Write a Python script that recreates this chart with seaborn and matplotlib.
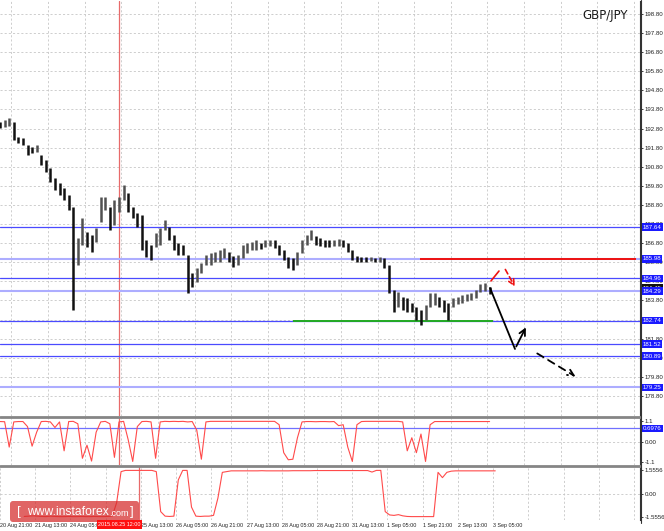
import matplotlib
matplotlib.use("Agg")
import matplotlib.pyplot as plt
import seaborn as sns
import numpy as np
import pandas as pd
from matplotlib.lines import Line2D
from matplotlib.patches import FancyBboxPatch
from matplotlib.transforms import IdentityTransform, blended_transform_factory

sns.set_theme(style="white")
plt.rcParams["font.family"] = ["Liberation Sans", "DejaVu Sans"]

# ---------------- data ----------------
# hour index of H1 bars (0 = 20 Aug 21:00, weekend hours skipped)
tick_hours = [0, 16, 32, 48, 64, 80, 96, 112, 128, 144, 160, 176, 192, 208, 224]
tick_labels = ["20 Aug 21:00", "21 Aug 13:00", "24 Aug 05:00", "24 Aug 21:00",
               "25 Aug 13:00", "26 Aug 05:00", "26 Aug 21:00", "27 Aug 13:00",
               "28 Aug 05:00", "28 Aug 21:00", "31 Aug 13:00", "1 Sep 05:00",
               "1 Sep 21:00", "2 Sep 13:00", "3 Sep 05:00"]
grid_hours = [0, 16, 32, 48, 64, 80, 96, 112, 128, 144, 160, 176, 192, 208, 224,
              240, 256, 272, 288]

bar_hours = list(range(11, 226, 2))
bar_high = [193.15, 193.25, 193.36, 193.15, 192.36, 192.31, 191.94, 191.84, 191.94, 191.42,
            191.16, 190.74, 190.21, 189.95, 189.69, 189.32, 188.70, 187.07, 188.12, 187.39,
            187.23, 187.60, 189.22, 189.22, 188.70, 189.06, 189.22, 189.85, 189.43, 188.70,
            188.38, 188.28, 186.97, 186.71, 187.33, 187.60, 188.01, 187.65, 187.23, 186.81,
            186.71, 186.18, 185.24, 185.50, 185.76, 186.18, 186.29, 186.34, 186.44, 186.55,
            186.34, 186.13, 186.18, 186.71, 186.81, 186.86, 186.97, 186.81, 186.97, 186.97,
            186.97, 186.71, 186.44, 186.08, 186.03, 186.34, 186.97, 187.23, 187.49, 187.18,
            187.07, 186.97, 186.97, 186.97, 187.02, 186.97, 186.81, 186.44, 186.13, 186.08,
            186.08, 186.08, 186.03, 186.08, 186.03, 185.66, 184.35, 184.25, 183.98, 183.93,
            183.67, 183.46, 183.30, 183.56, 184.19, 184.19, 183.98, 183.83, 183.67, 183.93,
            183.98, 184.09, 184.14, 184.19, 184.35, 184.66, 184.72, 184.51]
bar_low = [192.83, 192.88, 192.94, 192.20, 192.05, 191.94, 191.42, 191.52, 191.57, 190.89,
           190.53, 190.00, 189.59, 189.32, 189.06, 188.54, 183.30, 185.66, 186.71, 186.60,
           186.34, 186.86, 187.91, 188.54, 187.49, 187.75, 188.43, 189.06, 188.43, 188.12,
           187.65, 186.44, 186.08, 185.92, 186.60, 186.71, 187.49, 186.97, 186.44, 186.18,
           186.18, 184.19, 184.51, 184.77, 185.24, 185.66, 185.66, 185.82, 185.82, 186.03,
           185.82, 185.55, 185.66, 186.03, 186.29, 186.44, 186.44, 186.50, 186.60, 186.65,
           186.55, 186.18, 185.92, 185.50, 185.40, 185.66, 186.29, 186.71, 186.97, 186.71,
           186.65, 186.60, 186.60, 186.65, 186.65, 186.60, 186.34, 185.92, 185.82, 185.82,
           185.82, 185.87, 185.82, 185.82, 185.50, 184.19, 183.20, 183.46, 183.30, 183.20,
           183.20, 182.78, 182.52, 182.78, 183.46, 183.56, 183.46, 183.20, 182.78, 183.46,
           183.62, 183.67, 183.77, 183.83, 183.93, 184.25, 184.30, 184.14]

osc1 = [1.07, 1.06, -0.30, 1.05, 1.07, 1.07, 0.80, -0.25, 0.50, 1.07,
        1.08, 1.05, 0.75, 1.05, -0.50, 1.07, 1.08, 0.95, -0.90, -0.20,
        -1.05, 0.50, 1.05, 1.08, 0.95, -0.85, 1.05, 1.08, 0.10, -1.07,
        0.80, 1.07, 1.08, 1.05, -0.90, 1.05, 1.08, 1.07, 1.08, 1.07,
        1.08, 1.05, 1.07, 0.60, -0.95, 1.05, 1.08, 1.08, 1.08, 1.08,
        1.08, 1.08, 1.08, 1.08, 1.08, 1.08, 1.08, 1.08, 1.08, 1.08,
        1.08, 0.90, -0.60, -0.98, -0.95, 0.20, 1.05, 1.07, 1.07, 1.06,
        1.07, 1.07, 1.06, 1.07, 0.85, 0.90, -0.30, -1.07, 0.90, 1.07,
        1.08, 1.08, 1.08, 1.08, 1.08, 1.08, 1.08, 1.08, 1.05, -0.50,
        0.20, -0.60, 0.40, -1.07, 0.90, 1.07, 1.07, 1.07, 1.07, 1.07,
        1.07, 1.07, 1.07, 1.07, 1.07, 1.07, 1.07, 1.07]
osc2 = [-1.52, -1.50, -1.48, -1.50, -1.52, -1.53, -1.50, -1.52, -1.53, -1.53,
        -1.52, -1.53, -1.53, -1.52, -1.53, -1.53, -1.52, -1.53, -1.53, -1.52,
        -1.50, -0.60, 1.45, 1.53, 1.53, 1.53, 1.53, 1.53, 1.53, 1.53,
        1.45, -1.20, -1.50, -1.52, -1.50, 0.90, 1.53, 1.53, -0.90, -1.50,
        -1.52, -1.50, -1.50, -1.45, -0.30, 1.40, 1.45, 1.50, 1.50, 1.50,
        1.50, 1.50, 1.50, 1.50, 1.51, 1.50, 1.50, 1.50, 1.50, 1.50,
        1.50, 1.51, 1.51, 1.51, 1.51, 1.51, 1.52, 1.52, 1.52, 1.52,
        1.52, 1.52, 1.52, 1.52, 1.52, 1.52, 1.52, 1.52, 1.52, 1.42,
        1.53, 1.53, -1.20, -1.42, -1.45, -1.40, -1.48, -1.52, -1.53, -1.53,
        -1.53, -1.53, -1.53, -1.53, 1.40, 1.05, 1.40, 1.48, 1.50, 1.50,
        1.50, 1.50, 1.50, 1.50, 1.50, 1.50, 1.50, 1.50]

price_ticks = [178.8, 179.8, 180.8, 181.8, 182.8, 183.8, 184.8, 185.8, 186.8, 187.8,
               188.8, 189.8, 190.8, 191.8, 192.8, 193.8, 194.8, 195.8, 196.8, 197.8, 198.8]
levels_thin = [187.64, 184.96, 182.74, 181.52, 180.89]
levels_light = [185.98, 184.29, 179.25]
level_labels = [187.64, 185.98, 184.96, 184.29, 182.74, 181.52, 180.89, 179.25]
bid_price = 184.45
support_level = 182.74   # green segment
support_span = (139.1, 226.5)
resist_level = 185.98    # red segment
resist_span = (194.6, 289.0)
marker_hour = 63         # 2015.08.25 12:00
osc1_level = 0.6976

# forecast arrows (hour, price)
fc_main = [(225.2, 184.45), (236.1, 181.26), (241.4, 182.52)]
fc_alt = [(244.8, 181.10), (263.6, 179.74)]
fc_red_up = [(225.6, 184.82), (229.1, 185.34)]
fc_red_dn = [(231.3, 185.55), (236.6, 184.40)]

# ---------------- layout ----------------
W, H = 664, 531
fig = plt.figure(figsize=(W / 100, H / 100), dpi=100)
fig.patch.set_facecolor("white")

def fax(top, bottom):
    return [0, 1 - bottom / H, 640 / W, (bottom - top) / H]

ax = fig.add_axes(fax(1, 416))
ax1 = fig.add_axes(fax(418, 465))
ax2 = fig.add_axes(fax(467, 520))

LBL = 4.4
xlim = (10.973, 290.75)
grid_kw = dict(color="#c6c6c6", lw=0.6, ls=(0, (2.5, 2.5)), zorder=0)
for a in (ax, ax1, ax2):
    a.set_xlim(*xlim)
    a.set_facecolor("white")
    for s in ("left", "top", "bottom"):
        a.spines[s].set_visible(False)
    a.spines["right"].set_color("#333333")
    a.spines["right"].set_linewidth(0.8)
    a.yaxis.tick_right()
    a.tick_params(axis="y", which="both", labelsize=LBL, colors="#222222", length=2,
                  width=0.6, pad=1.5, right=True, left=False)
    for h in grid_hours:
        a.axvline(h, **grid_kw)
    a.axvline(marker_hour, color="#e86a6a", lw=0.9, zorder=1)

# main price panel
ax.set_ylim(177.75, 199.48)
ax.set_yticks(price_ticks)
ax.set_yticklabels([f"{v:.2f}" for v in price_ticks])
ax.set_xticks([])
for p in price_ticks:
    ax.axhline(p, **grid_kw)
for lv in levels_light:
    ax.axhline(lv, color="#adadff", lw=1.5, zorder=2)
for lv in levels_thin:
    ax.axhline(lv, color="#4a4aff", lw=0.9, zorder=2)
ax.hlines(support_level, *support_span, color="#22aa22", lw=1.4, zorder=3)
ax.hlines(resist_level, *resist_span, color="#ee1111", lw=1.4, zorder=3)

# bars
bars = pd.DataFrame({"hour": bar_hours, "high": bar_high, "low": bar_low})
mid = (bars["high"] + bars["low"]) / 2
up = mid.diff().fillna(0) > 0
ax.vlines(bars["hour"][~up], bars["low"][~up], bars["high"][~up], color="#111111", lw=1.8, zorder=4)
ax.vlines(bars["hour"][up], bars["low"][up], bars["high"][up], color="#505050", lw=1.8, zorder=4)

# forecast arrows
xs, ys = zip(*fc_main[:2])
ax.plot(xs, ys, color="black", lw=1.3, zorder=5, solid_capstyle="round")
ax.annotate("", xy=fc_main[2], xytext=fc_main[1],
            arrowprops=dict(arrowstyle="->", color="black", lw=1.3, mutation_scale=11), zorder=5)
ax.annotate("", xy=fc_alt[1], xytext=fc_alt[0],
            arrowprops=dict(arrowstyle="->", color="black", lw=1.3, ls=(0, (4, 3)),
                            mutation_scale=11), zorder=5)
xs, ys = zip(*fc_red_up)
ax.plot(xs, ys, color="#ee1111", lw=1.2, zorder=5)
ax.annotate("", xy=fc_red_dn[1], xytext=fc_red_dn[0],
            arrowprops=dict(arrowstyle="->", color="#ee1111", lw=1.2, ls=(0, (3, 2)),
                            mutation_scale=10), zorder=5)

# oscillator 1
ax1.set_ylim(-1.26, 1.26)
ax1.set_yticks([1.1, 0.0, -1.1])
ax1.set_yticklabels(["1.1", "0.00", "-1.1"])
ax1.set_xticks([])
ax1.axhline(0, **grid_kw)
ax1.axhline(osc1_level, color="#7070ff", lw=0.9, zorder=2)
sns.lineplot(x=bar_hours, y=osc1, ax=ax1, color="#ff4a4a", lw=0.8, zorder=3)

# oscillator 2
ax2.set_ylim(-1.755, 1.755)
ax2.set_yticks([1.5556, 0.0, -1.5556])
ax2.set_yticklabels(["1.5556", "0.00", "-1.5556"])
ax2.axhline(0, **grid_kw)
sns.lineplot(x=bar_hours, y=osc2, ax=ax2, color="#ff4a4a", lw=0.8, zorder=3)
ax2.set_xticks(tick_hours)
ax2.set_xticklabels(tick_labels, ha="left")
ax2.tick_params(axis="x", labelsize=3.9, colors="#222222", length=0, pad=2.2, bottom=True)
for a in (ax1, ax2):
    a.set_xlabel("")
    a.set_ylabel("")

# level price boxes
btrans = blended_transform_factory(ax.transAxes, ax.transData)
ax.text(1.004, bid_price, f"{bid_price:.2f}", transform=btrans, ha="left", va="center",
        fontsize=LBL, color="white", zorder=9, clip_on=False,
        bbox=dict(boxstyle="square,pad=0.2", fc="#111111", ec="none"))
box = dict(boxstyle="square,pad=0.2", fc="#1a1aff", ec="none")
for lv in level_labels:
    ax.text(1.004, lv, f"{lv:.2f}", transform=btrans,
            ha="left", va="center", fontsize=LBL, color="white", bbox=box, zorder=10, clip_on=False)
ax1.text(1.004, osc1_level, f"{osc1_level:.4f}",
         transform=blended_transform_factory(ax1.transAxes, ax1.transData),
         ha="left", va="center", fontsize=LBL, color="white", bbox=box, zorder=10, clip_on=False)

# panel separators and axis line
for y in (417, 466):
    fig.add_artist(Line2D([0, 640 / W], [1 - y / H] * 2, transform=fig.transFigure,
                          color="#858585", lw=2.0))
fig.add_artist(Line2D([640.5 / W] * 2, [1 - 523 / H, 1], transform=fig.transFigure,
                      color="#333333", lw=0.8))

# time marker label
fig.text(119.5 / W, 1 - 524.5 / H, "2015.08.25 12:00", ha="center", va="center", fontsize=3.9,
         color="white", bbox=dict(boxstyle="square,pad=0.3", fc="#ff1010", ec="none"), zorder=10)

# title
fig.text(605 / W, 1 - 15 / H, "GBP/JPY", ha="center", va="center", fontsize=8.5,
         color="#1a1a1a", family=["DejaVu Sans"])

# watermark
wm = FancyBboxPatch((10, H - 522), 129, 21, boxstyle="round,pad=0,rounding_size=3",
                    transform=IdentityTransform(), fc="#d42a2a", ec="none", alpha=0.72)
fig.patches.append(wm)
wy = 1 - 512 / H
fig.text(17 / W, wy, "[", ha="left", va="center", fontsize=9.5, color="white", zorder=11)
t_main = fig.text(27 / W, wy, "www.instaforex", ha="left", va="center", fontsize=8.7,
                  color="white", zorder=11)
fig.canvas.draw()
ext = t_main.get_window_extent()
fig.text(ext.x1 / W, wy - 0.002, ".com", ha="left", va="center", fontsize=6.5,
         color="white", zorder=11)
fig.text(130 / W, wy, "]", ha="left", va="center", fontsize=9.5, color="white", zorder=11)

fig.savefig("out.png", dpi=100, facecolor="white")
